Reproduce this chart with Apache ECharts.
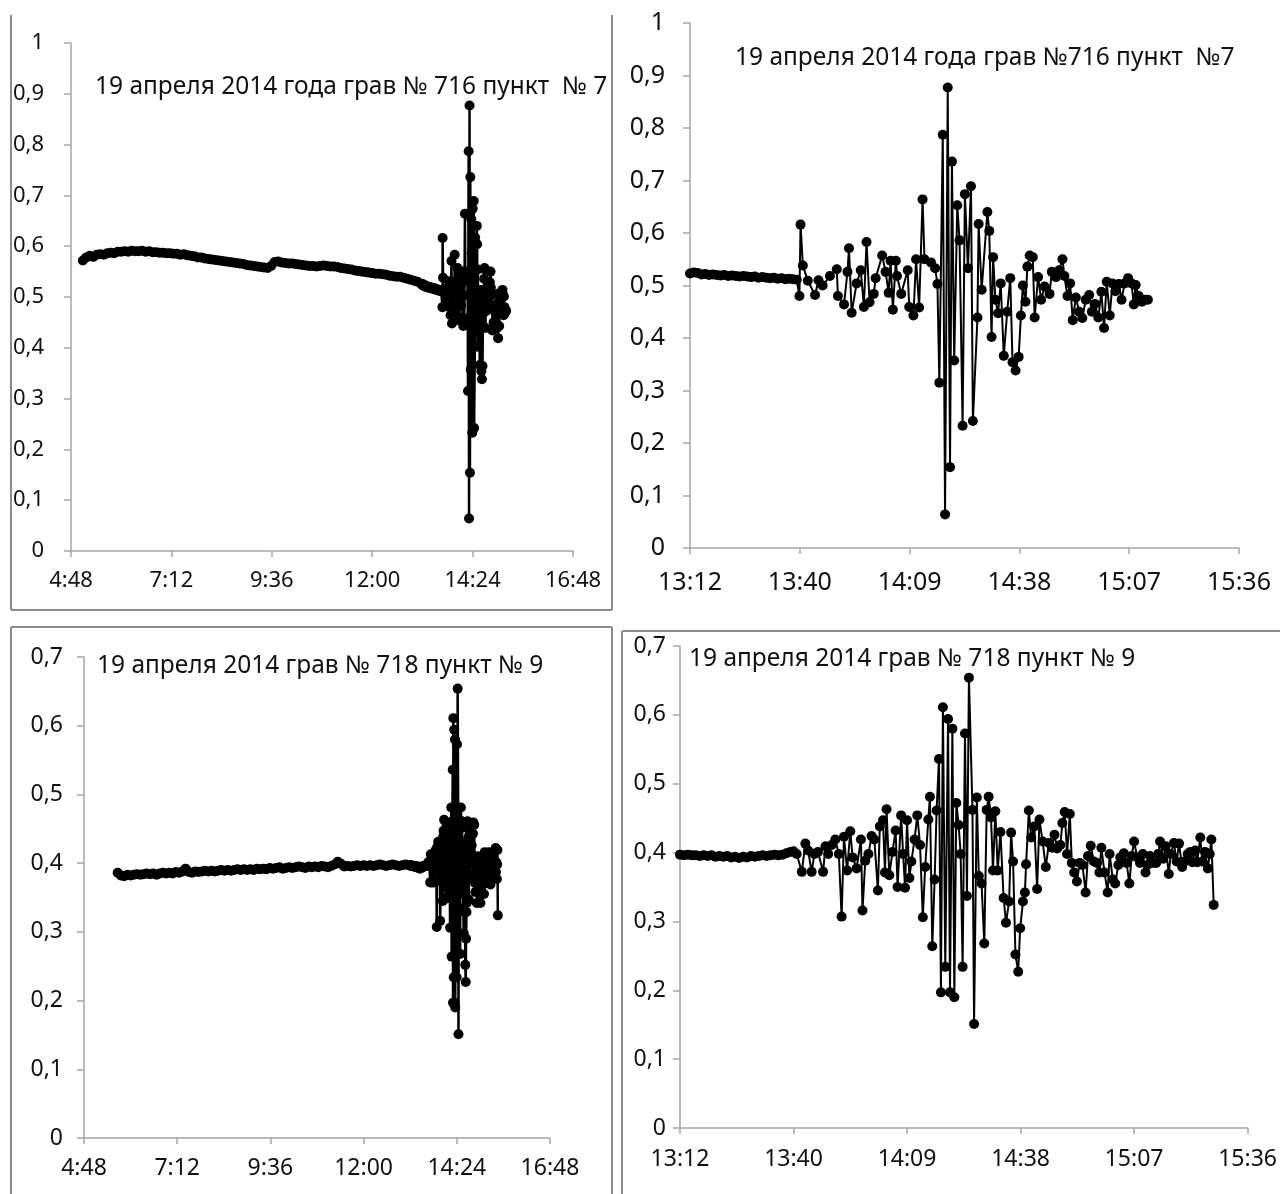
<!DOCTYPE html>
<html><head><meta charset="utf-8">
<script src="https://cdn.jsdelivr.net/npm/echarts@6/dist/echarts.min.js"></script>
<style>html,body{margin:0;padding:0;background:#fff}#c{width:1280px;height:1194px}</style>
</head><body><div id="c"></div>
<script>
// ---------- DATA ----------
// Titles
const title716Full = "19 апреля 2014 года грав № 716 пункт  № 7";
const title716Zoom = "19 апреля 2014 года грав №716 пункт  №7";
const title718Full = "19 апреля 2014 грав № 718 пункт № 9";
const title718Zoom = "19 апреля 2014 грав № 718 пункт № 9";

// Station 716: quiet record, one reading every 5 minutes from 05:05
const quiet716Start = "05:05", quiet716StepMin = 5;
const quiet716 = [0.572,0.578,0.581,0.579,0.583,0.584,0.583,0.586,0.587,0.586,0.589,0.589,0.590,0.589,0.591,0.590,0.590,0.591,0.589,0.590,
0.588,0.588,0.587,0.587,0.586,0.586,0.585,0.585,0.583,0.584,0.582,0.581,0.580,0.578,0.578,0.576,0.575,0.574,0.573,0.572,
0.571,0.570,0.569,0.568,0.567,0.566,0.565,0.563,0.562,0.561,0.560,0.559,0.558,0.557,0.561,0.569,0.570,0.568,0.567,0.566,
0.566,0.565,0.564,0.563,0.562,0.561,0.561,0.560,0.561,0.562,0.561,0.560,0.560,0.559,0.557,0.556,0.555,0.554,0.552,0.551,
0.550,0.549,0.548,0.547,0.546,0.546,0.545,0.544,0.542,0.541,0.540,0.540,0.538,0.536,0.534,0.532,0.530,0.526];
// Station 716: one reading per minute from 13:12
const dense716Start = "13:12", dense716StepMin = 1;
const dense716 = [0.523,0.525,0.524,0.521,0.522,0.520,0.521,0.520,0.519,0.520,0.518,0.519,0.518,0.517,0.518,0.517,0.516,0.517,0.515,0.516,
0.515,0.514,0.515,0.513,0.514,0.512,0.513,0.512,0.511];
// Station 716: active part, times in minutes after midnight
const active716Times = [820.7,821.0,821.6,822.9,824.8,825.7,826.8,828.7,830.5,830.8,832.4,833.3,833.7,834.4,835.7,836.8,837.6,838.3,839.1,840.2,
840.7,842.4,843.3,844.1,844.6,845.2,846.0,846.3,847.4,849.1,849.5,850.6,851.3,852.1,853.0,853.5,855.2,856.3,856.9,857.4,
858.3,858.9,859.6,860.2,860.7,861.3,862.1,862.7,863.5,864.1,864.9,865.7,866.2,867.4,867.7,868.5,870.0,870.5,871.1,871.5,
872.1,872.8,873.5,874.3,875.2,876.0,876.6,877.4,878.2,878.8,879.3,880.0,880.5,881.1,881.9,882.4,883.3,884.1,885.0,886.3,
886.9,888.0,888.8,889.7,890.2,891.0,891.7,892.4,893.2,894.1,894.9,895.8,896.7,897.4,898.2,899.1,899.9,900.6,901.3,902.1,
902.8,903.6,904.5,905.2,906.0,906.9,907.8,908.4,908.9,909.7,910.5,911.4,912.1];
const active716Values = [0.480,0.616,0.538,0.509,0.482,0.510,0.500,0.518,0.531,0.480,0.464,0.526,0.571,0.448,0.504,0.529,0.459,0.583,0.468,0.484,
0.514,0.557,0.526,0.486,0.547,0.454,0.547,0.518,0.484,0.529,0.459,0.443,0.550,0.458,0.664,0.550,0.544,0.533,0.503,0.315,
0.787,0.064,0.877,0.154,0.736,0.357,0.653,0.586,0.233,0.674,0.533,0.689,0.242,0.439,0.617,0.492,0.640,0.604,0.402,0.554,
0.473,0.447,0.504,0.366,0.450,0.514,0.354,0.338,0.364,0.443,0.500,0.469,0.536,0.557,0.554,0.439,0.516,0.473,0.498,0.484,
0.526,0.516,0.529,0.550,0.518,0.480,0.504,0.434,0.477,0.450,0.438,0.473,0.482,0.450,0.465,0.439,0.488,0.419,0.507,0.443,
0.504,0.489,0.503,0.473,0.504,0.514,0.504,0.464,0.501,0.480,0.469,0.473,0.473];

// Station 718: quiet record, one reading every 5 minutes from 05:40
const quiet718Start = "05:40", quiet718StepMin = 5;
const quiet718 = [0.386,0.382,0.381,0.383,0.382,0.383,0.384,0.383,0.384,0.385,0.384,0.385,0.383,0.385,0.386,0.385,0.386,0.385,0.387,0.386,
0.388,0.392,0.387,0.386,0.388,0.387,0.388,0.389,0.388,0.389,0.388,0.389,0.390,0.389,0.390,0.389,0.390,0.391,0.390,0.391,
0.390,0.391,0.390,0.392,0.391,0.392,0.391,0.393,0.392,0.393,0.394,0.392,0.393,0.394,0.393,0.394,0.395,0.394,0.393,0.395,
0.394,0.395,0.394,0.396,0.395,0.394,0.396,0.398,0.402,0.399,0.395,0.396,0.395,0.396,0.397,0.396,0.397,0.396,0.397,0.396,
0.397,0.398,0.397,0.396,0.397,0.398,0.397,0.396,0.397,0.398,0.397];
const dense718Start = "13:12", dense718StepMin = 1;
const dense718 = [0.397,0.396,0.397,0.396,0.396,0.395,0.396,0.395,0.396,0.394,0.395,0.394,0.395,0.393,0.394,0.392,0.394,0.393,0.395,0.394,
0.395,0.396,0.395,0.396,0.397,0.396,0.397,0.399,0.401];
const active718Times = [820.8,821.6,822.9,823.8,824.5,825.4,826.1,827.0,828.3,828.9,829.6,830.5,831.4,832.3,833.0,833.6,834.4,835.2,835.8,836.8,
837.9,838.3,839.0,839.8,840.6,841.3,842.2,842.7,843.5,844.0,844.4,845.1,845.9,846.7,847.2,848.1,848.6,849.1,849.6,850.2,
850.7,851.5,852.2,852.9,853.6,854.2,855.0,855.4,856.0,856.6,857.1,857.7,858.2,858.7,859.3,860.0,860.5,861.1,861.6,862.1,
862.7,863.2,863.7,864.3,864.8,865.3,866.2,866.6,867.3,867.8,868.5,869.2,869.8,870.3,870.9,871.4,872.0,872.6,873.3,874.1,
874.7,875.5,876.0,876.5,877.1,877.8,878.3,879.0,879.5,879.8,880.5,881.1,881.9,882.6,883.2,884.0,884.8,885.6,886.4,887.0,
887.7,888.5,889.0,889.6,890.2,890.9,891.4,892.0,892.7,893.4,894.1,894.9,895.5,896.2,897.0,897.8,898.4,898.9,899.7,900.5,
901.0,901.8,902.4,903.2,903.7,904.6,905.3,906.0,906.6,907.2,908.0,908.7,909.4,910.1,910.6,911.2,911.9,912.8,913.3,913.8,
914.6,915.2,916.0,916.5,917.3,918.0,918.6,919.4,920.0,920.8,921.5,922.0,922.7,923.2,924.0,924.5,925.2,925.9,926.4,926.8,927.4];
const active718Values = [0.402,0.398,0.372,0.413,0.403,0.372,0.398,0.401,0.372,0.409,0.398,0.411,0.419,0.398,0.307,0.423,0.374,0.431,0.393,0.377,
0.419,0.316,0.388,0.398,0.424,0.419,0.345,0.438,0.447,0.371,0.463,0.367,0.401,0.432,0.350,0.454,0.398,0.349,0.447,0.363,
0.387,0.419,0.454,0.411,0.306,0.379,0.448,0.481,0.264,0.361,0.461,0.536,0.197,0.611,0.234,0.594,0.197,0.580,0.190,0.472,
0.440,0.398,0.234,0.573,0.337,0.654,0.462,0.151,0.480,0.366,0.355,0.268,0.462,0.481,0.451,0.374,0.460,0.374,0.430,0.334,
0.298,0.329,0.429,0.387,0.252,0.227,0.290,0.329,0.342,0.383,0.461,0.422,0.438,0.347,0.448,0.416,0.379,0.414,0.407,0.426,
0.406,0.411,0.443,0.459,0.398,0.456,0.385,0.371,0.358,0.385,0.382,0.342,0.395,0.410,0.387,0.385,0.371,0.407,0.371,0.342,
0.398,0.361,0.355,0.382,0.393,0.399,0.385,0.355,0.395,0.416,0.393,0.385,0.398,0.371,0.382,0.395,0.385,0.385,0.398,0.416,
0.391,0.409,0.369,0.398,0.414,0.387,0.413,0.379,0.387,0.398,0.401,0.386,0.403,0.386,0.422,0.387,0.401,0.377,0.398,0.419,0.324];

// Axis definitions (minutes after midnight)
const fullDayAxis = {min: 288, max: 1008, interval: 144};   // 4:48 .. 16:48
const zoomAxis = {min: 792, max: 936, interval: 28.8};      // 13:12 .. 15:36
const y716 = {min: 0, max: 1, interval: 0.1};
const y718 = {min: 0, max: 0.7, interval: 0.1};

// ---------- BUILD ----------
function hm(s){const p=s.split(':').map(Number);return p[0]*60+p[1]+(p[2]||0)/60;}
function build(qs, qStep, qv, ds, dStep, dv, at, av){
  const out=[]; const q0=hm(qs), d0=hm(ds);
  qv.forEach((v,i)=>out.push([q0+i*qStep, v]));
  dv.forEach((v,i)=>out.push([d0+i*dStep, v]));
  at.forEach((t,i)=>out.push([t, av[i]]));
  return out;
}
const data716 = build(quiet716Start, quiet716StepMin, quiet716, dense716Start, dense716StepMin, dense716, active716Times, active716Values);
const data718 = build(quiet718Start, quiet718StepMin, quiet718, dense718Start, dense718StepMin, dense718, active718Times, active718Values);

const FONT = "'Noto Sans', 'Open Sans', sans-serif";
const AXC = '#a6a6a6';
function fmtTime(v){const m=Math.floor(v+1e-6);return Math.floor(m/60)+':'+String(m%60).padStart(2,'0');}
function fmtY(v){const r=Math.round(v*10)/10;return r===0?'0':String(r).replace('.',',');}

function xAx(grid, ax, fs, margin){
  return {type:'value', gridIndex:grid, min:ax.min, max:ax.max, interval:ax.interval,
    axisLine:{show:true, onZero:false, lineStyle:{color:AXC, width:1.5}},
    axisTick:{show:true, length:6, lineStyle:{color:AXC, width:1.5}},
    splitLine:{show:false},
    axisLabel:{formatter:fmtTime, fontSize:fs, fontFamily:FONT, color:'#111', margin:margin, showMinLabel:true, showMaxLabel:true}};
}
function yAx(grid, ax, fs, margin){
  return {type:'value', gridIndex:grid, min:ax.min, max:ax.max, interval:ax.interval,
    axisLine:{show:true, lineStyle:{color:AXC, width:1.5}},
    axisTick:{show:true, length:7, lineStyle:{color:AXC, width:1.5}},
    splitLine:{show:false},
    axisLabel:{formatter:fmtY, fontSize:fs, fontFamily:FONT, color:'#111', margin:margin}};
}
function ser(i, data, sym, lw){
  return {type:'line', xAxisIndex:i, yAxisIndex:i, data:data, showSymbol:true, showAllSymbol:true,
    symbol:'circle', symbolSize:sym, itemStyle:{color:'#000'}, lineStyle:{color:'#000', width:lw},
    clip:true, silent:true, animation:false};
}
function txt(x,y,s,fs){return {type:'text', x:x, y:y, silent:true, style:{text:s, font:fs+'px '+FONT, fill:'#111', verticalAlign:'middle'}};}
function ln(x1,y1,x2,y2){return {type:'line', silent:true, shape:{x1,y1,x2,y2}, style:{stroke:'#8c8c8c', lineWidth:2}};}

const chart = echarts.init(document.getElementById('c'), null, {renderer:'canvas'});
chart.setOption({
  animation:false,
  backgroundColor:'#fff',
  grid:[
    {left:71, top:43, width:502, height:508},
    {left:690, top:23, width:549, height:525},
    {left:84, top:657, width:466, height:481},
    {left:680, top:646, width:568, height:482}
  ],
  xAxis:[xAx(0, fullDayAxis, 22, 19), xAx(1, zoomAxis, 25, 22), xAx(2, fullDayAxis, 23, 19), xAx(3, zoomAxis, 23, 20)],
  yAxis:[yAx(0, y716, 22, 27), yAx(1, y716, 25, 25), yAx(2, y718, 23, 21), yAx(3, y718, 23, 14)],
  series:[ser(0, data716, 10, 2.5), ser(1, data716, 10, 2), ser(2, data718, 10, 2.5), ser(3, data718, 10, 2)],
  graphic:[
    ln(11,15,11,610), ln(11,610,612,610), ln(612,15,612,610),
    ln(11,627,612,627), ln(11,627,11,1194), ln(612,627,612,1194),
    ln(622,631,1280,631), ln(622,631,622,1194),
    txt(95,87,title716Full,24.5),
    txt(735,58,title716Zoom,24.5),
    txt(97,666,title718Full,24.5),
    txt(689,659,title718Zoom,24.5)
  ]
});
</script></body></html>
